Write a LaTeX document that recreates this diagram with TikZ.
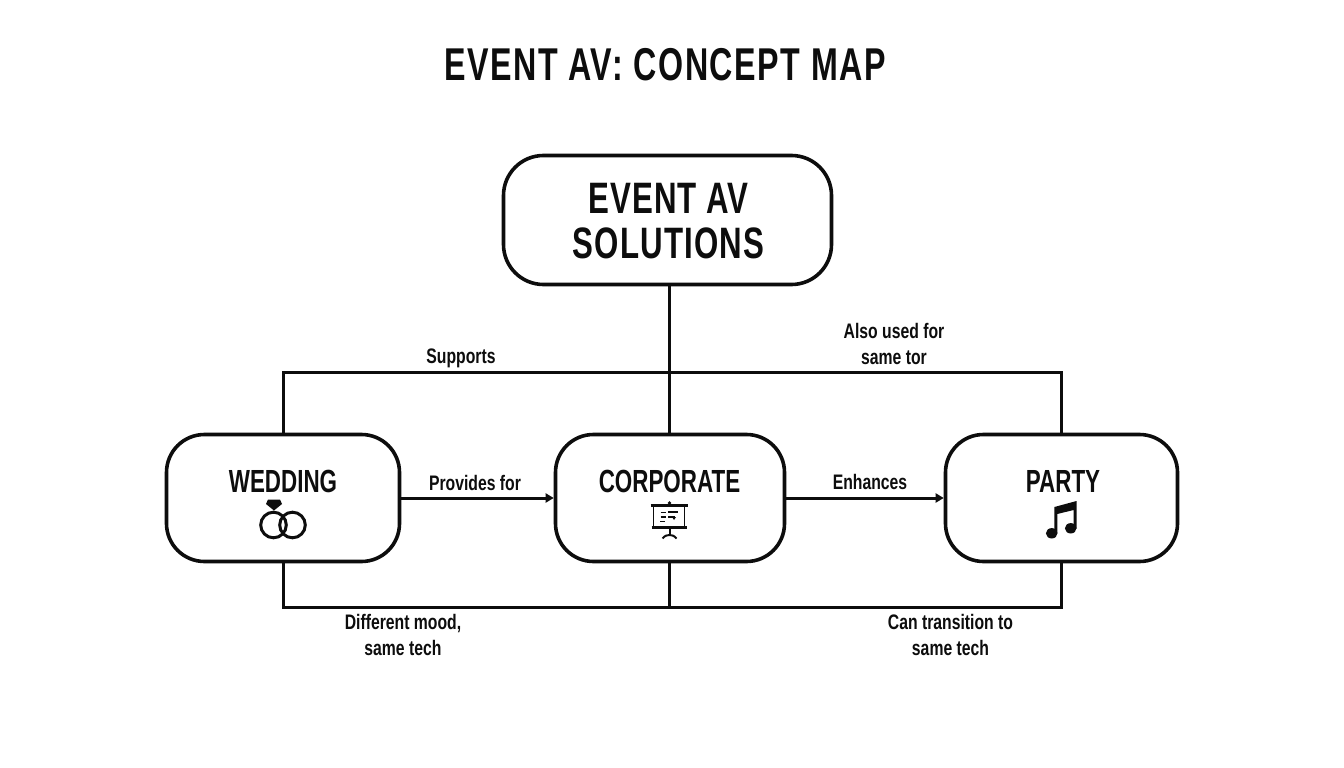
\documentclass[tikz,border=0pt]{standalone}
\usepackage{fontspec}
\setmainfont{Liberation Sans}
\newfontfamily\condb[FakeStretch=0.70]{Liberation Sans Bold}
\newfontfamily\condt[FakeStretch=0.70,LetterSpace=3.5]{Liberation Sans Bold}
\newfontfamily\condr[FakeStretch=0.71,LetterSpace=2.5]{Liberation Sans Bold}
\newfontfamily\conde[FakeStretch=0.75]{Liberation Sans Bold}
\usetikzlibrary{arrows.meta,calc}
\definecolor{ink}{HTML}{0D0D0D}
\tikzset{
  box/.style={draw=ink,line width=3.6pt,rounded corners=38pt,fill=white,inner sep=0pt,minimum height=127pt},
  title/.style={text=ink,font=\condt\fontsize{46}{50}\selectfont},
  rootlabel/.style={text=ink,align=center,font=\condr\fontsize{44}{45}\selectfont},
  boxlabel/.style={text=ink,font=\condb\fontsize{32}{34}\selectfont},
  edgelabel/.style={text=ink,align=center,font=\conde\fontsize{21}{26}\selectfont},
  link/.style={draw=ink,line width=3pt},
  arrowlink/.style={link,-{Triangle[length=8pt,width=9pt]}},
  icon/.style={draw=ink,line width=3pt},
  iconthin/.style={draw=ink,line width=1.8pt},
  iconfill/.style={fill=ink,draw=none}
}
\begin{document}
\begin{tikzpicture}[x=1pt,y=-1pt]
\useasboundingbox (0,0) rectangle (1344,768);
\fill[white] (0,0) rectangle (1344,768);
\node[title] (ttl) at (665,65) {EVENT AV: CONCEPT MAP};

\coordinate (topbus) at (669,372);
\coordinate (botbus) at (669,607);

\node[box,minimum width=328pt,minimum height=129pt,rounded corners=40pt] (root) at (667.5,220) {};
\node[box,minimum width=233pt] (wedding) at (283,498) {};
\node[box,minimum width=229pt] (corporate) at (670,498) {};
\node[box,minimum width=232pt] (party) at (1061.5,498) {};

\draw[link] (root.south -| topbus) -- (corporate.north -| topbus);
\draw[link] (wedding.north) |- (topbus) -| (party.north -| 1061,0);
\draw[link] (wedding.south) |- (botbus) -| (party.south -| 1061,0);
\draw[link] (corporate.south -| botbus) -- (botbus);
\draw[arrowlink] (wedding.east) -- (corporate.west);
\draw[arrowlink] (corporate.east) -- (party.west);

\node[rootlabel] (rootl) at (668.5,221) {EVENT AV\\SOLUTIONS};
\node[boxlabel] (weddingl) at (283,481) {WEDDING};
\node[boxlabel] (corporatel) at (669.5,481) {CORPORATE};
\node[boxlabel] (partyl) at (1063,481) {PARTY};

\node[edgelabel] (l1) at (461,358.5) {Supports};
\node[edgelabel] (l2) at (894,344) {Also used for\\same tor};
\node[edgelabel] (l3) at (475,483) {Provides for};
\node[edgelabel] (l4) at (870,482) {Enhances};
\node[edgelabel] (l5) at (403,635) {Different mood,\\same tech};
\node[edgelabel] (l6) at (950.5,635) {Can transition to\\same tech};

% rings
\draw[icon] (273.5,525) circle (12.8pt);
\draw[icon] (292.5,525) circle (12.8pt);
\fill[ink] (268,499.5) -- (280,499.5) -- (282,504) -- (274,510.5) -- (266,504) -- cycle;

% projection screen
\draw[icon,line width=2.2pt] (650.5,505.5) -- (687.5,505.5);
\draw[icon,line width=2.2pt] (651.5,527.5) -- (687,527.5);
\draw[iconthin] (653.5,505.5) -- (653.5,527.5);
\draw[iconthin] (684.5,505.5) -- (684.5,527.5);
\fill[ink] (669.5,503) circle (1.8pt);
\draw[iconthin,line width=2pt] (669.5,527.5) -- (669.5,535);
\draw[iconthin,line width=2pt] (662.5,538.5) .. controls (665,535.5) and (667,535) .. (669.5,535) .. controls (672,535) and (674,535.5) .. (676.5,538.5);
\draw[iconthin] (660.5,512.5) -- (666,512.5);
\draw[iconthin] (660.5,517) -- (666,517);
\draw[iconthin] (660,521.5) -- (665,521.5);
\draw[iconthin] (668,512) -- (678,512);
\draw[iconthin] (668,517) -- (675,517);
\fill[ink] (672,517) -- (676,517) -- (674,520) -- cycle;

% music notes
\fill[ink] (1051.7,533.3) ellipse (5.8pt and 5.2pt);
\fill[ink] (1070.7,528.3) ellipse (5.8pt and 5.2pt);
\fill[ink] (1054.4,507) -- (1076.5,501) -- (1076.5,528.5) -- (1073.6,528.5) -- (1073.6,510) -- (1057.3,514) -- (1057.3,533) -- (1054.4,533) -- cycle;
\end{tikzpicture}
\end{document}
